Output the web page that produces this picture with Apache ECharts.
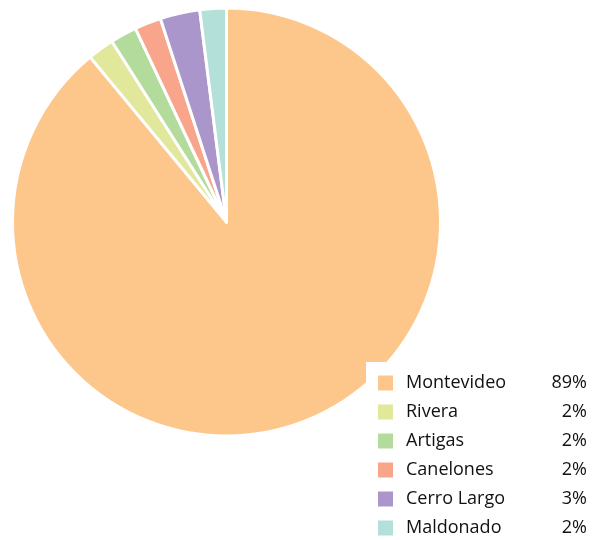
<!DOCTYPE html>
<html lang="es">
<head>
  <meta charset="UTF-8">
  <title>Departamentos</title>
  <script src="https://cdn.jsdelivr.net/npm/echarts@6/dist/echarts.min.js"></script>
  <style>
    html, body { margin: 0; padding: 0; background: #fff; }
    #main { width: 598px; height: 540px; }
  </style>
</head>
<body>
<div id="main"></div>
<script>
  var names = ['Montevideo', 'Rivera', 'Artigas', 'Canelones', 'Cerro Largo', 'Maldonado'];
  var values = [89, 2, 2, 2, 3, 2];
  var colors = ['#fdc68a', '#e1e89b', '#b3dc9c', '#f9a58b', '#aa96cb', '#b3e0d9'];

  var data = [];
  for (var i = 0; i < names.length; i++) {
    data.push({ name: names[i], value: values[i], itemStyle: { color: colors[i] } });
  }

  function pct(name) {
    var idx = names.indexOf(name);
    return values[idx] + '%';
  }

  var chart = echarts.init(document.getElementById('main'));
  chart.setOption({
    animation: false,
    legend: {
      orient: 'vertical',
      left: 366,
      top: 362,
      padding: [11, 10, 0, 10],
      backgroundColor: '#fff',
      itemWidth: 17,
      itemHeight: 17,
      itemGap: 9,
      icon: 'rect',
      data: names,
      formatter: function (name) {
        return '{n|' + name + '}{v|' + pct(name) + '}';
      },
      textStyle: {
        fontFamily: 'Open Sans',
        fontSize: 18,
        lineHeight: 20,
        color: '#111',
        rich: {
          n: { width: 139, padding: [0, 0, 0, 7], fontSize: 18, lineHeight: 20, fontFamily: 'Open Sans', color: '#111' },
          v: { width: 42, align: 'right', fontSize: 18, lineHeight: 20, fontFamily: 'Open Sans', color: '#111' }
        }
      }
    },
    series: [
      {
        type: 'pie',
        center: [226.5, 222],
        radius: 214,
        startAngle: 90,
        clockwise: true,
        label: { show: false },
        labelLine: { show: false },
        itemStyle: { borderColor: '#fff', borderWidth: 3 },
        emphasis: { disabled: true },
        data: data
      }
    ]
  });
</script>
</body>
</html>
